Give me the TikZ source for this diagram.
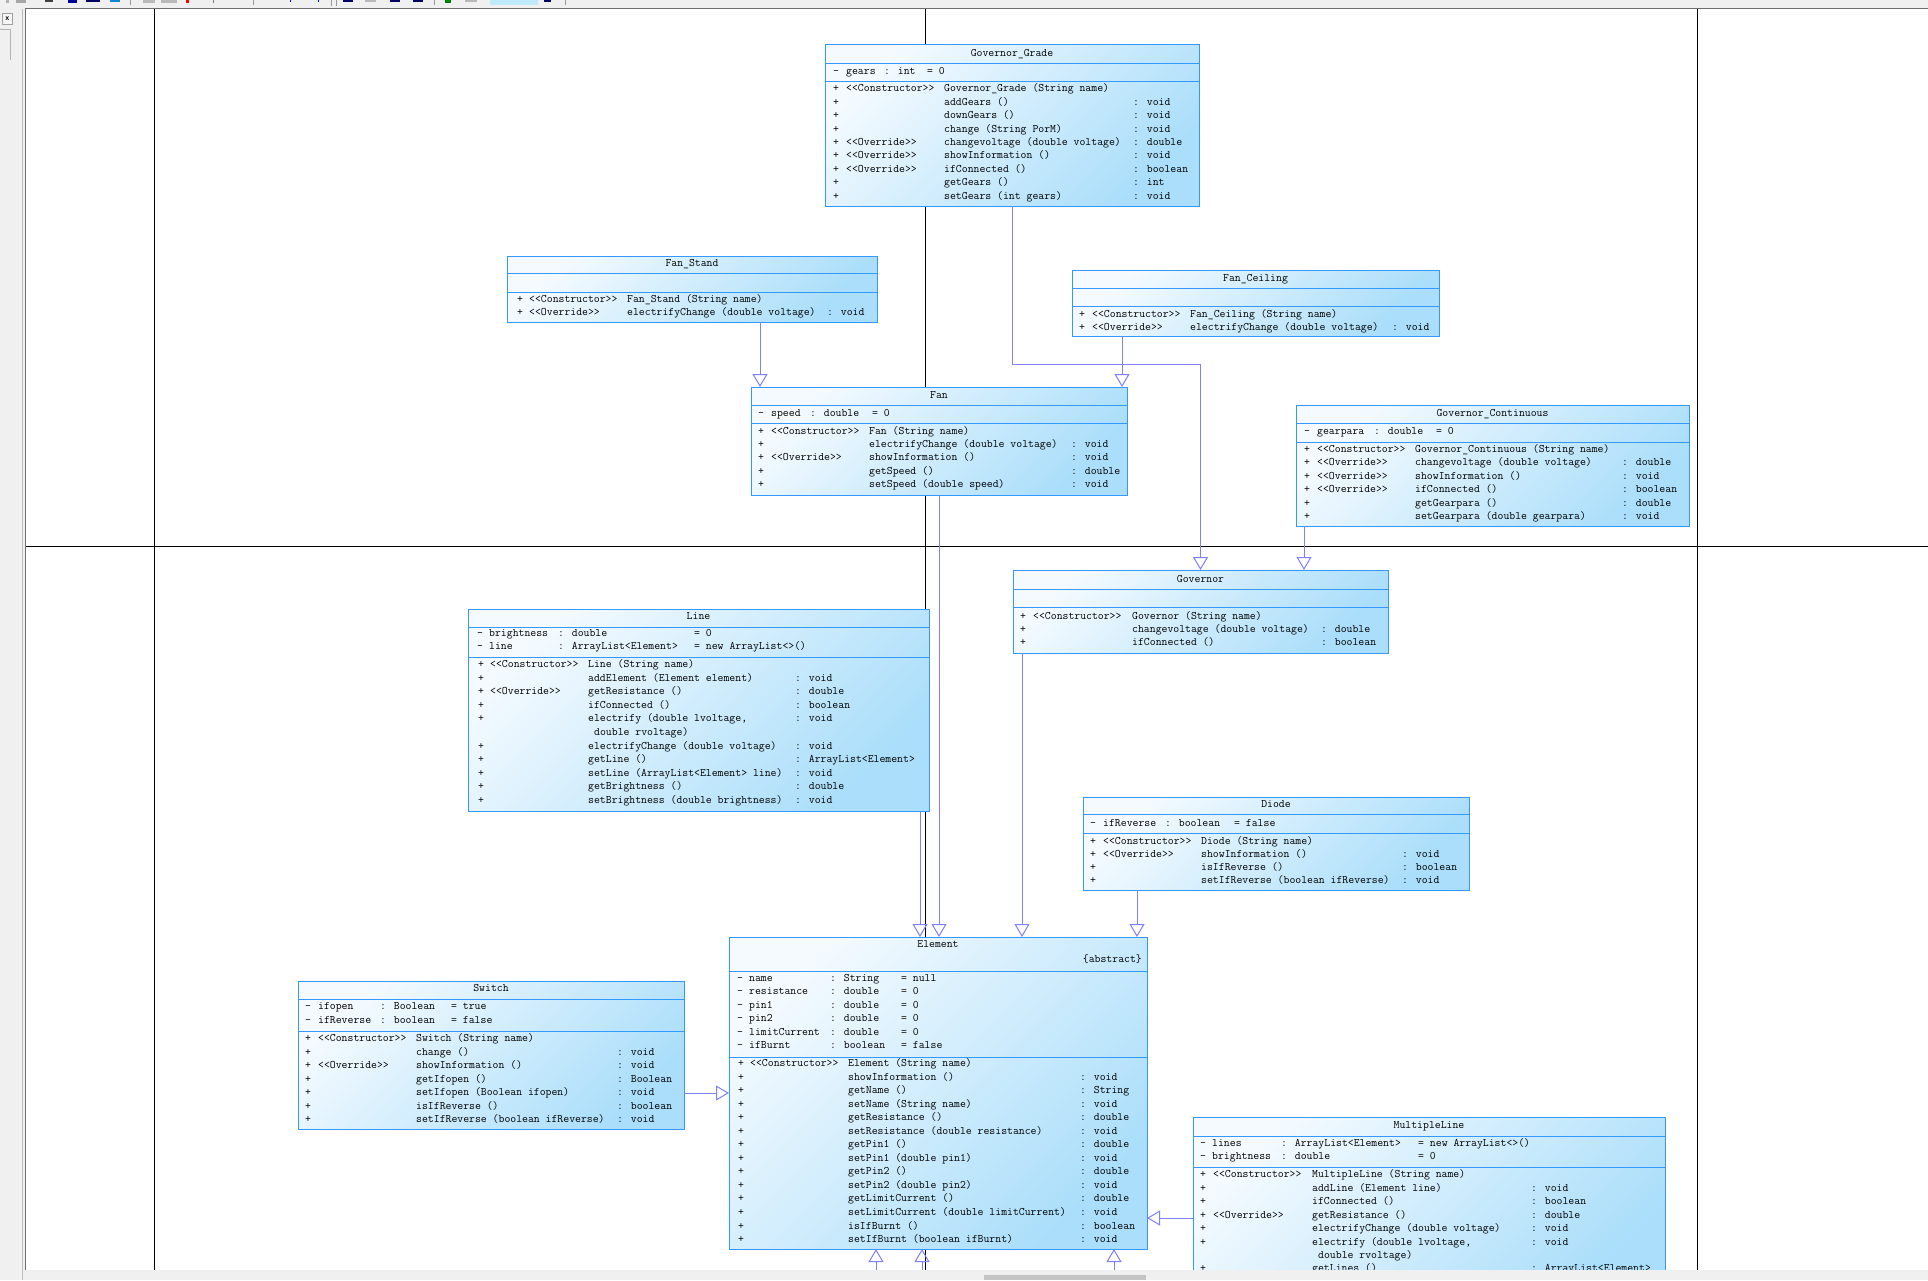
\documentclass[tikz,border=0pt]{standalone}
\usepackage{fontspec}
\usetikzlibrary{arrows.meta,calc}
\definecolor{boxline}{HTML}{3399FF}
\definecolor{conn}{HTML}{8080FF}
\definecolor{shadeA}{HTML}{F4FAFF}
\definecolor{shadeB}{HTML}{AADEFA}
\definecolor{panel}{HTML}{F0F0F0}
\definecolor{panelline}{HTML}{A0A0A0}
\definecolor{edgeline}{HTML}{6E6E6E}
\definecolor{thumbc}{HTML}{C4C4C4}
\newcommand\ster[1]{<\kern0pt<#1>\kern0pt>}
\newcommand\crows[6]{%
  \foreach[count=\k] \rY/\rA/\rB/\rC/\rD in {#6}{%
    \node[txt] (#1a\k) at (#2,\rY) {\rA};
    \node[txt] (#1b\k) at (#3,\rY) {\rB};
    \node[txt] (#1c\k) at (#4,\rY) {\rC};
    \node[txt] (#1d\k) at (#5,\rY) {\rD};
  }}
\newcommand\cbox[9]{%
  \node[cls, minimum width={#4-#2}, minimum height={#5-#3}] (#1) at (#2,#3) {};
  \draw[sepl] (#2,#6) -- (#4,#6);
  \draw[sepl] (#2,#7) -- (#4,#7);
  \node[ttl] (#1-t) at ({(#2+#4)/2},#8) {#9};
}
\tikzset{
  txt/.style={anchor=west, inner sep=0pt, text height=7pt, text depth=2pt, font=\ttfamily\fontsize{11.43}{13}\selectfont},
  ttl/.style={anchor=center, inner sep=0pt, text height=7pt, text depth=2pt, font=\ttfamily\fontsize{11.43}{13}\selectfont},
  cls/.style={draw=boxline, line width=1pt, anchor=north west, inner sep=0pt, outer sep=0pt,
    top color=shadeA, bottom color=shadeB, shading angle=45},
  sepl/.style={draw=boxline, line width=1pt},
  divl/.style={draw=black, line width=1pt},
  inh/.style={draw=conn, line width=1pt, -{Triangle[open, length=13pt, width=15pt]}},
  icon/.style={fill=#1, draw=none},
}
\begin{document}
\begin{tikzpicture}[x=1pt, y=-1pt]
\useasboundingbox (0,0) rectangle (1928,1280);
\fill[white] (0,0) rectangle (1928,1280);
\begin{scope}
\clip (25,9) rectangle (1928,1270);
% page dividers
\draw[divl] (154,9) -- (154,1270);
\draw[divl] (925,9) -- (925,1270);
\draw[divl] (1697,9) -- (1697,1270);
\draw[divl] (25,546) -- (1928,546);

% class boxes
\cbox{GG}{825}{44}{1199}{206}{63}{81}{53.5}{Governor\_Grade}
\cbox{FS}{507}{256}{877}{322}{273}{292}{263.5}{Fan\_Stand}
\cbox{FC}{1072}{270}{1439}{336}{288}{306}{278.5}{Fan\_Ceiling}
\cbox{Fan}{751}{387}{1127}{495}{405}{423}{395.5}{Fan}
\cbox{GC}{1296}{405}{1689}{526}{423}{442}{413.5}{Governor\_Continuous}
\cbox{GV}{1013}{570}{1388}{653}{589}{607}{580}{Governor}
\cbox{LN}{468}{609}{929}{811}{627}{657}{616.5}{Line}
\cbox{DI}{1083}{797}{1469}{890}{814}{833}{805}{Diode}
\cbox{SW}{298}{981}{684}{1129}{999}{1031}{989}{Switch}
\cbox{EL}{729}{937}{1147}{1249}{971}{1057}{944.5}{Element}
\cbox{ML}{1193}{1117}{1665}{1300}{1136}{1167}{1126}{MultipleLine}
\node[txt, anchor=east] (ELabs) at (1142,960) {\{abstract\}};

% connectors (generalization)
\coordinate (fsA) at ([xshift=68pt]FS.south);
\draw[inh] (fsA) -- (fsA |- Fan.north);
\coordinate (fcA) at ([xshift=-133.5pt]FC.south);
\draw[inh] (fcA) -- (fcA |- Fan.north);
\draw[inh] (GG.south) -- ++(0,158) -| (GV.north);
\coordinate (gcA) at ([xshift=-188.5pt]GC.south);
\draw[inh] (gcA) -- (gcA |- GV.north);
\draw[inh] (Fan.south) -- (Fan.south |- EL.north);
\coordinate (lnA) at ([xshift=221.5pt]LN.south);
\draw[inh] (lnA) -- (lnA |- EL.north);
\coordinate (gvA) at ([xshift=-178.5pt]GV.south);
\draw[inh] (gvA) -- (gvA |- EL.north);
\coordinate (diA) at ([xshift=-139pt]DI.south);
\draw[inh] (diA) -- (diA |- EL.north);
\coordinate (swA) at ([yshift=-38pt]SW.east);
\draw[inh] (swA) -- (swA -| EL.west);
\coordinate (mlA) at ([yshift=-125pt]EL.east);
\draw[inh] (mlA -| ML.west) -- (mlA);
\coordinate (bA) at (876,1285);
\coordinate (bB) at (922,1285);
\coordinate (bC) at (1114,1285);
\draw[inh] (bA) -- (bA |- EL.south);
\draw[inh] (bB) -- (bB |- EL.south);
\draw[inh] (bC) -- (bC |- EL.south);

% Governor_Grade
\crows{GGatt}{833}{846}{884}{927}{72/{-}/{gears}/{: int}/{= 0}}
\crows{GGop}{833}{846}{944}{1133}{%
 89.3/{+}/{\ster{Constructor}}/{Governor\_Grade (String name)}/{},
 102.7/{+}/{}/{addGears ()}/{: void},
 116.1/{+}/{}/{downGears ()}/{: void},
 129.5/{+}/{}/{change (String PorM)}/{: void},
 142.9/{+}/{\ster{Override}}/{changevoltage (double voltage)}/{: double},
 156.3/{+}/{\ster{Override}}/{showInformation ()}/{: void},
 169.7/{+}/{\ster{Override}}/{ifConnected ()}/{: boolean},
 183.1/{+}/{}/{getGears ()}/{: int},
 196.5/{+}/{}/{setGears (int gears)}/{: void}}
% Fan_Stand
\crows{FSop}{517}{529}{627}{827}{%
 300/{+}/{\ster{Constructor}}/{Fan\_Stand (String name)}/{},
 313/{+}/{\ster{Override}}/{electrifyChange (double voltage)}/{: void}}
% Fan_Ceiling
\crows{FCop}{1079}{1092}{1190}{1392}{%
 315/{+}/{\ster{Constructor}}/{Fan\_Ceiling (String name)}/{},
 328/{+}/{\ster{Override}}/{electrifyChange (double voltage)}/{: void}}
% Fan
\crows{Fanatt}{758}{771}{810}{872}{413.5/{-}/{speed}/{: double}/{= 0}}
\crows{Fanop}{758}{771}{869}{1071}{%
 431.5/{+}/{\ster{Constructor}}/{Fan (String name)}/{},
 444.9/{+}/{}/{electrifyChange (double voltage)}/{: void},
 458.3/{+}/{\ster{Override}}/{showInformation ()}/{: void},
 471.7/{+}/{}/{getSpeed ()}/{: double},
 485.1/{+}/{}/{setSpeed (double speed)}/{: void}}
% Governor_Continuous
\crows{GCatt}{1304}{1317}{1374}{1436}{432/{-}/{gearpara}/{: double}/{= 0}}
\crows{GCop}{1304}{1317}{1415}{1622}{%
 450/{+}/{\ster{Constructor}}/{Governor\_Continuous (String name)}/{},
 463.4/{+}/{\ster{Override}}/{changevoltage (double voltage)}/{: double},
 476.8/{+}/{\ster{Override}}/{showInformation ()}/{: void},
 490.2/{+}/{\ster{Override}}/{ifConnected ()}/{: boolean},
 503.6/{+}/{}/{getGearpara ()}/{: double},
 517/{+}/{}/{setGearpara (double gearpara)}/{: void}}
% Governor
\crows{GVop}{1020}{1033}{1132}{1321}{%
 617/{+}/{\ster{Constructor}}/{Governor (String name)}/{},
 630.2/{+}/{}/{changevoltage (double voltage)}/{: double},
 643.4/{+}/{}/{ifConnected ()}/{: boolean}}
% Line
\crows{LNatt}{477}{489}{558}{694}{%
 634.3/{-}/{brightness}/{: double}/{= 0},
 647.3/{-}/{line}/{: ArrayList<Element>}/{= new ArrayList<>()}}
\crows{LNop}{478}{490}{588}{795}{%
 665/{+}/{\ster{Constructor}}/{Line (String name)}/{},
 678.6/{+}/{}/{addElement (Element element)}/{: void},
 692.2/{+}/{\ster{Override}}/{getResistance ()}/{: double},
 705.8/{+}/{}/{ifConnected ()}/{: boolean},
 719.4/{+}/{}/{electrify (double lvoltage,}/{: void},
 746.6/{+}/{}/{electrifyChange (double voltage)}/{: void},
 760.2/{+}/{}/{getLine ()}/{: ArrayList<Element>},
 773.8/{+}/{}/{setLine (ArrayList<Element> line)}/{: void},
 787.4/{+}/{}/{getBrightness ()}/{: double},
 801/{+}/{}/{setBrightness (double brightness)}/{: void}}
\node[txt] (LNcont) at (594,733) {double rvoltage)};
% Diode
\crows{DIatt}{1090}{1103}{1165}{1234}{823.5/{-}/{ifReverse}/{: boolean}/{= false}}
\crows{DIop}{1090}{1103}{1201}{1402}{%
 841.5/{+}/{\ster{Constructor}}/{Diode (String name)}/{},
 854.8/{+}/{\ster{Override}}/{showInformation ()}/{: void},
 868.1/{+}/{}/{isIfReverse ()}/{: boolean},
 881.4/{+}/{}/{setIfReverse (boolean ifReverse)}/{: void}}
% Switch
\crows{SWatt}{305}{318}{380}{451}{%
 1007.3/{-}/{ifopen}/{: Boolean}/{= true},
 1021/{-}/{ifReverse}/{: boolean}/{= false}}
\crows{SWop}{305}{318}{416}{617}{%
 1039/{+}/{\ster{Constructor}}/{Switch (String name)}/{},
 1052.5/{+}/{}/{change ()}/{: void},
 1066/{+}/{\ster{Override}}/{showInformation ()}/{: void},
 1079.5/{+}/{}/{getIfopen ()}/{: Boolean},
 1093/{+}/{}/{setIfopen (Boolean ifopen)}/{: void},
 1106.5/{+}/{}/{isIfReverse ()}/{: boolean},
 1120/{+}/{}/{setIfReverse (boolean ifReverse)}/{: void}}
% Element
\crows{ELatt}{737}{749}{830}{901}{%
 978.5/{-}/{name}/{: String}/{= null},
 992/{-}/{resistance}/{: double}/{= 0},
 1005.5/{-}/{pin1}/{: double}/{= 0},
 1019/{-}/{pin2}/{: double}/{= 0},
 1032.5/{-}/{limitCurrent}/{: double}/{= 0},
 1046/{-}/{ifBurnt}/{: boolean}/{= false}}
\crows{ELop}{738}{750}{848}{1080}{%
 1064/{+}/{\ster{Constructor}}/{Element (String name)}/{},
 1077.5/{+}/{}/{showInformation ()}/{: void},
 1091.1/{+}/{}/{getName ()}/{: String},
 1104.6/{+}/{}/{setName (String name)}/{: void},
 1118.2/{+}/{}/{getResistance ()}/{: double},
 1131.7/{+}/{}/{setResistance (double resistance)}/{: void},
 1145.2/{+}/{}/{getPin1 ()}/{: double},
 1158.8/{+}/{}/{setPin1 (double pin1)}/{: void},
 1172.3/{+}/{}/{getPin2 ()}/{: double},
 1185.9/{+}/{}/{setPin2 (double pin2)}/{: void},
 1199.4/{+}/{}/{getLimitCurrent ()}/{: double},
 1212.9/{+}/{}/{setLimitCurrent (double limitCurrent)}/{: void},
 1226.5/{+}/{}/{isIfBurnt ()}/{: boolean},
 1240/{+}/{}/{setIfBurnt (boolean ifBurnt)}/{: void}}
% MultipleLine
\crows{MLatt}{1200}{1212}{1281}{1418}{%
 1144.3/{-}/{lines}/{: ArrayList<Element>}/{= new ArrayList<>()},
 1157.3/{-}/{brightness}/{: double}/{= 0}}
\crows{MLop}{1200}{1213}{1312}{1531}{%
 1175/{+}/{\ster{Constructor}}/{MultipleLine (String name)}/{},
 1189/{+}/{}/{addLine (Element line)}/{: void},
 1202.3/{+}/{}/{ifConnected ()}/{: boolean},
 1215.8/{+}/{\ster{Override}}/{getResistance ()}/{: double},
 1229/{+}/{}/{electrifyChange (double voltage)}/{: void},
 1243/{+}/{}/{electrify (double lvoltage,}/{: void},
 1268.5/{+}/{}/{getLines ()}/{: ArrayList<Element>}}
\node[txt] (MLcont) at (1318,1255.7) {double rvoltage)};
\end{scope}

% window chrome: toolbar strip
\fill[panel] (0,0) rectangle (1928,8.5);
\draw[edgeline, line width=1pt] (25,8.5) -- (1928,8.5);
\fill[icon=gray!60] (6,0) rectangle (9,3);
\fill[icon=gray!70] (16,0) rectangle (26,2.5);
\fill[icon=black!75] (45,0) rectangle (53,2);
\fill[icon=blue!60!black] (68,0) rectangle (77,3);
\fill[icon=blue!40!black] (86,0) rectangle (100,2);
\fill[icon=cyan!70!blue] (110,0) rectangle (120,2);
\fill[icon=gray!80] (130,0) rectangle (131,5);
\fill[icon=gray!55] (143,0) rectangle (155,3);
\fill[icon=gray!55] (161,0) rectangle (177,3);
\fill[icon=red] (186,0) rectangle (189,3);
\fill[icon=gray] (213,0) rectangle (214,3);
\fill[icon=gray!80] (253,0) rectangle (254,5);
\fill[icon=blue] (290,0) rectangle (291,2);
\fill[icon=blue] (318,0) rectangle (319,2);
\fill[icon=gray!80] (331,0) rectangle (332,6);
\fill[icon=gray!80] (336,0) rectangle (337,6);
\fill[icon=blue!40!black] (343,0) rectangle (353,2);
\fill[icon=gray!55] (365,0) rectangle (376,2);
\fill[icon=blue!40!black] (390,0) rectangle (400,2);
\fill[icon=blue!40!black] (413,0) rectangle (423,2);
\fill[icon=gray!80] (434,0) rectangle (435,5);
\fill[icon=green!50!black] (445,0) rectangle (451,3);
\fill[icon=gray!55] (465,0) rectangle (477,2);
\fill[icon=cyan!25] (490,0) rectangle (538,5);
\fill[icon=blue!40!black] (544,0) rectangle (551,2);
\fill[icon=gray!80] (565,0) rectangle (566,5);
% left panel
\fill[panel] (0,8.5) rectangle (24.5,1280);
\draw[panelline!70, line width=1pt] (22,8.5) -- (22,1280);
\draw[edgeline, line width=1pt] (25,8.5) -- (25,1280);
\node[draw=panelline, fill=panel!60, minimum width=10.5pt, minimum height=11.5pt, inner sep=0pt,
  font=\sffamily\bfseries\footnotesize] (xbtn) at (7.3,18.6) {x};
\draw[panelline!80, line width=1pt] (0,29.5) -- (10,29.5) -- (10,60);
% bottom scrollbar
\fill[panel] (25,1270) rectangle (1928,1280);
\fill[thumbc] (984,1275) rectangle (1146,1280);
\end{tikzpicture}
\end{document}
